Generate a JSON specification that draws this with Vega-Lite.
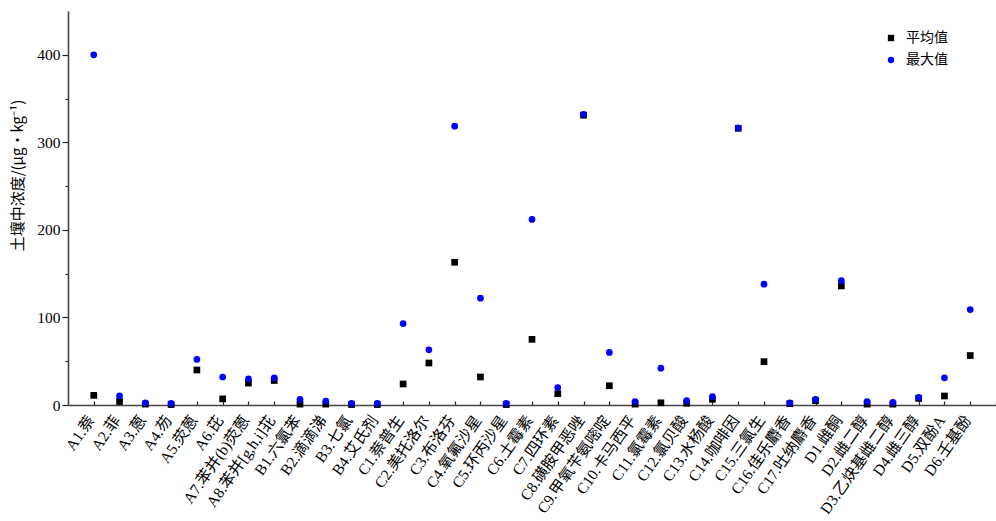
{
  "$schema": "https://vega.github.io/schema/vega-lite/v6.json",
  "width": 928,
  "height": 394,
  "autosize": {"type": "none"},
  "padding": {"left": 68, "top": 11, "right": 0, "bottom": 116},
  "background": "#ffffff",
  "config": {"view": {"stroke": null}},
  "data": {
    "values": [
      {"name": "A1.萘", "平均值": 11, "最大值": 400},
      {"name": "A2.菲", "平均值": 4, "最大值": 10.5},
      {"name": "A3.蒽", "平均值": 1, "最大值": 2.5},
      {"name": "A4.芴", "平均值": 0.5, "最大值": 2},
      {"name": "A5.荧蒽", "平均值": 40, "最大值": 52},
      {"name": "A6.芘", "平均值": 7, "最大值": 32},
      {"name": "A7.苯并(b)荧蒽", "平均值": 25, "最大值": 30},
      {"name": "A8.苯并[g,h,i]苝", "平均值": 28, "最大值": 31},
      {"name": "B1.六氯苯", "平均值": 1, "最大值": 6.5},
      {"name": "B2.滴滴涕", "平均值": 1, "最大值": 4.5},
      {"name": "B3.七氯", "平均值": 0.5, "最大值": 2},
      {"name": "B4.艾氏剂", "平均值": 0.5, "最大值": 2},
      {"name": "C1.萘普生", "平均值": 24, "最大值": 93},
      {"name": "C2.美托洛尔", "平均值": 48, "最大值": 63},
      {"name": "C3.布洛芬", "平均值": 163, "最大值": 318.5},
      {"name": "C4.氧氟沙星", "平均值": 32, "最大值": 122},
      {"name": "C5.环丙沙星", "平均值": 0.5, "最大值": 2},
      {"name": "C6.土霉素", "平均值": 75, "最大值": 212},
      {"name": "C7.四环素", "平均值": 13, "最大值": 20},
      {"name": "C8.磺胺甲恶唑", "平均值": 331, "最大值": 332},
      {"name": "C9.甲氧苄氨嘧啶", "平均值": 22, "最大值": 60},
      {"name": "C10.卡马西平", "平均值": 1, "最大值": 4},
      {"name": "C11.氯霉素", "平均值": 2.5, "最大值": 42},
      {"name": "C12.氯贝酸", "平均值": 2, "最大值": 5},
      {"name": "C13.水杨酸", "平均值": 6.5, "最大值": 9.5},
      {"name": "C14.咖啡因", "平均值": 316, "最大值": 316.5},
      {"name": "C15.三氯生", "平均值": 49.5, "最大值": 138},
      {"name": "C16.佳乐麝香", "平均值": 1.5, "最大值": 2.5},
      {"name": "C17.吐纳麝香", "平均值": 5, "最大值": 6.5},
      {"name": "D1.雌酮", "平均值": 136, "最大值": 142},
      {"name": "D2.雌二醇", "平均值": 1, "最大值": 4},
      {"name": "D3.乙炔基雌二醇", "平均值": 1, "最大值": 3},
      {"name": "D4.雌三醇", "平均值": 7.5, "最大值": 8.8},
      {"name": "D5.双酚A", "平均值": 10.3, "最大值": 31},
      {"name": "D6.壬基酚", "平均值": 56.5, "最大值": 109}
    ]
  },
  "transform": [
    {"fold": ["平均值", "最大值"], "as": ["series", "value"]}
  ],
  "mark": {"type": "point", "filled": true, "size": 45, "opacity": 1},
  "encoding": {
    "x": {
      "field": "name",
      "type": "nominal",
      "sort": null,
      "scale": {
        "type": "point",
        "padding": 0.5,
        "align": 1,
        "domain": ["A1.萘", "A2.菲", "A3.蒽", "A4.芴", "A5.荧蒽", "A6.芘", "A7.苯并(b)荧蒽", "A8.苯并[g,h,i]苝", "B1.六氯苯", "B2.滴滴涕", "B3.七氯", "B4.艾氏剂", "C1.萘普生", "C2.美托洛尔", "C3.布洛芬", "C4.氧氟沙星", "C5.环丙沙星", "C6.土霉素", "C7.四环素", "C8.磺胺甲恶唑", "C9.甲氧苄氨嘧啶", "C10.卡马西平", "C11.氯霉素", "C12.氯贝酸", "C13.水杨酸", "C14.咖啡因", "C15.三氯生", "C16.佳乐麝香", "C17.吐纳麝香", "D1.雌酮", "D2.雌二醇", "D3.乙炔基雌二醇", "D4.雌三醇", "D5.双酚A", "D6.壬基酚", " "]
      },
      "axis": {
        "title": null,
        "labelAngle": -55,
        "labelFont": "Liberation Serif, Noto Sans CJK SC",
        "labelFontSize": 15.5,
        "labelColor": "#000000",
        "labelPadding": 16,
        "labelOffset": -3,
        "tickSize": -4,
        "tickColor": "#222222",
        "tickWidth": 1.2,
        "domainColor": "#444444",
        "domainWidth": 1.6,
        "labelOverlap": false
      }
    },
    "y": {
      "field": "value",
      "type": "quantitative",
      "scale": {"domain": [0, 450], "nice": false},
      "axis": {
        "title": "土壤中浓度/(μg•kg⁻¹)",
        "titleFont": "Noto Sans CJK SC",
        "titleFontSize": 15,
        "titleFontWeight": "normal",
        "titleColor": "#000000",
        "titleX": -51,
        "titleY": 164,
        "titleBaseline": "middle",
        "titleAngle": -90,
        "values": [0, 50, 100, 150, 200, 250, 300, 350, 400],
        "labelExpr": "datum.value % 100 == 0 ? datum.label : ''",
        "labelFont": "Liberation Serif",
        "labelFontSize": 15.5,
        "labelColor": "#000000",
        "labelPadding": 2,
        "tickSize": {"condition": {"test": "datum.value % 100 == 0", "value": 6}, "value": 3},
        "tickColor": "#222222",
        "tickWidth": 1.2,
        "domainColor": "#444444",
        "domainWidth": 1.6,
        "grid": false
      }
    },
    "color": {
      "field": "series",
      "type": "nominal",
      "scale": {"domain": ["平均值", "最大值"], "range": ["#000000", "#0000ff"]},
      "legend": {
        "title": null,
        "orient": "none",
        "legendX": 816,
        "legendY": 20,
        "labelFont": "Noto Sans CJK SC",
        "labelFontSize": 14,
        "labelColor": "#000000",
        "symbolSize": 40,
        "rowPadding": 8,
        "labelOffset": 8
      }
    },
    "shape": {
      "field": "series",
      "type": "nominal",
      "scale": {"domain": ["平均值", "最大值"], "range": ["square", "circle"]}
    }
  }
}
